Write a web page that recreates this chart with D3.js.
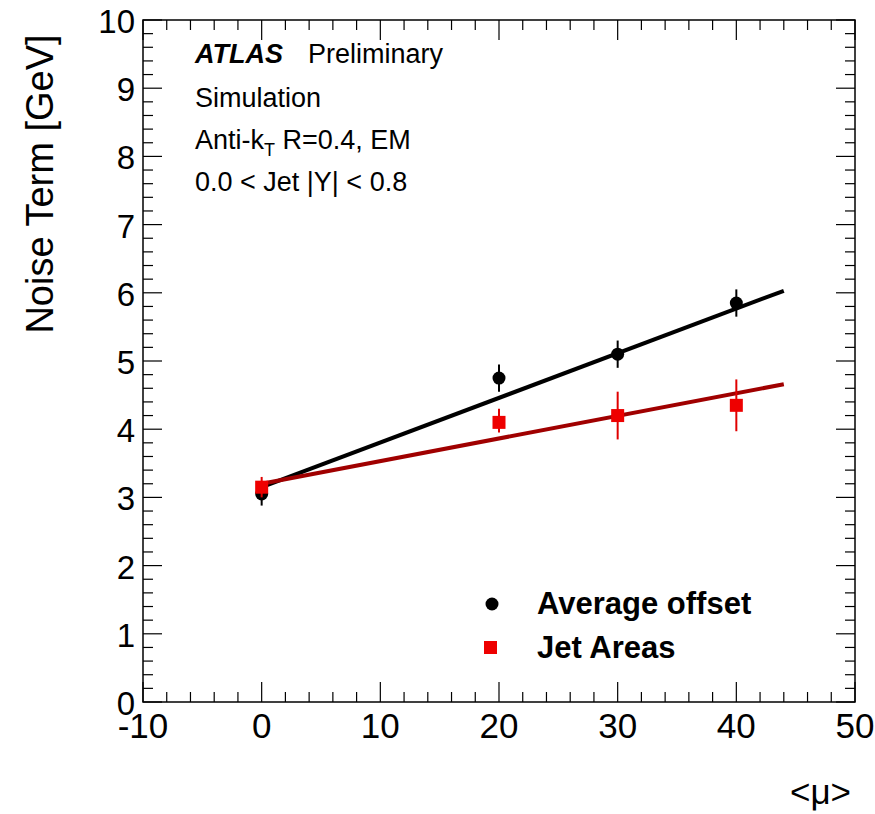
<!DOCTYPE html>
<html>
<head>
<meta charset="utf-8">
<script src="https://cdn.jsdelivr.net/npm/d3@7"></script>
<style>
  body { margin: 0; background: #fff; }
  svg { font-family: "Liberation Sans", Arial, Helvetica, sans-serif; }
</style>
</head>
<body>
<svg id="chart" width="875" height="814"></svg>
<script>
// data
const mu = [0, 20, 30, 40];
const avgOffset = [3.05, 4.75, 5.1, 5.85];
const avgOffsetErr = [0.17, 0.2, 0.2, 0.2];
const jetAreas = [3.15, 4.1, 4.2, 4.35];
const jetAreasErrUp = [0.15, 0.2, 0.35, 0.38];
const jetAreasErrDown = [0.15, 0.15, 0.35, 0.38];
// linear fits drawn over [0, 44]
const fitRange = [0, 44];
const avgOffsetFit = [3.15, 6.03];
const jetAreasFit = [3.2, 4.66];

const xTicks = [-10, 0, 10, 20, 30, 40, 50];
const yTicks = [0, 1, 2, 3, 4, 5, 6, 7, 8, 9, 10];

const svg = d3.select('#chart');
// frame edges (pixels)
const fLeft = 143, fRight = 855, fTop = 20, fBottom = 702;

const x = d3.scaleLinear().domain([-10, 50]).range([fLeft, fRight]);
const y = d3.scaleLinear().domain([0, 10]).range([fBottom, fTop]);

// frame
svg.append('rect')
  .attr('x', fLeft).attr('y', fTop)
  .attr('width', fRight - fLeft).attr('height', fBottom - fTop)
  .attr('fill', 'none').attr('stroke', '#000').attr('stroke-width', 1.5);

// ticks on all four sides, pointing inwards
const xMinor = d3.range(-10, 50.01, 2);
const yMinor = d3.range(0, 10.01, 0.2);
const tickG = svg.append('g').attr('stroke', '#000').attr('stroke-width', 1.2);
xMinor.forEach(v => {
  const len = Math.abs(v % 10) < 1e-6 ? 20 : 10;
  tickG.append('line').attr('x1', x(v)).attr('x2', x(v)).attr('y1', fBottom).attr('y2', fBottom - len);
  tickG.append('line').attr('x1', x(v)).attr('x2', x(v)).attr('y1', fTop).attr('y2', fTop + len);
});
yMinor.forEach(v => {
  const len = Math.abs(v - Math.round(v)) < 1e-6 ? 19 : 10;
  tickG.append('line').attr('y1', y(v)).attr('y2', y(v)).attr('x1', fLeft).attr('x2', fLeft + len);
  tickG.append('line').attr('y1', y(v)).attr('y2', y(v)).attr('x1', fRight).attr('x2', fRight - len);
});

// tick labels
svg.append('g').selectAll('text').data(xTicks).join('text')
  .attr('x', d => x(d)).attr('y', fBottom + 36)
  .attr('text-anchor', 'middle').attr('font-size', 35)
  .text(d => d);
svg.append('g').selectAll('text').data(yTicks).join('text')
  .attr('x', fLeft - 8).attr('y', d => y(d) + 13)
  .attr('text-anchor', 'end').attr('font-size', 33)
  .text(d => d);

// axis titles
svg.append('text')
  .attr('x', 851).attr('y', 804)
  .attr('text-anchor', 'end').attr('font-size', 35)
  .text('<μ>');
svg.append('text')
  .attr('transform', `translate(53,184) rotate(-90)`)
  .attr('text-anchor', 'middle').attr('font-size', 38)
  .text('Noise Term [GeV]');

// fit lines
const line = d3.line().x(d => x(d[0])).y(d => y(d[1]));
svg.append('path')
  .attr('d', line([[fitRange[0], avgOffsetFit[0]], [fitRange[1], avgOffsetFit[1]]]))
  .attr('stroke', '#000').attr('stroke-width', 4).attr('fill', 'none');
svg.append('path')
  .attr('d', line([[fitRange[0], jetAreasFit[0]], [fitRange[1], jetAreasFit[1]]]))
  .attr('stroke', '#a00000').attr('stroke-width', 4).attr('fill', 'none');

// average offset points
const avgG = svg.append('g');
mu.forEach((m, i) => {
  avgG.append('line')
    .attr('x1', x(m)).attr('x2', x(m))
    .attr('y1', y(avgOffset[i] - avgOffsetErr[i])).attr('y2', y(avgOffset[i] + avgOffsetErr[i]))
    .attr('stroke', '#000').attr('stroke-width', 2);
  avgG.append('circle')
    .attr('cx', x(m)).attr('cy', y(avgOffset[i])).attr('r', 6.5).attr('fill', '#000');
});

// jet areas points
const jaG = svg.append('g');
mu.forEach((m, i) => {
  jaG.append('line')
    .attr('x1', x(m)).attr('x2', x(m))
    .attr('y1', y(jetAreas[i] - jetAreasErrDown[i])).attr('y2', y(jetAreas[i] + jetAreasErrUp[i]))
    .attr('stroke', '#e00000').attr('stroke-width', 2);
  jaG.append('rect')
    .attr('x', x(m) - 6.5).attr('y', y(jetAreas[i]) - 6.5)
    .attr('width', 13).attr('height', 13).attr('fill', '#ee0000');
});

// ATLAS label block
const lab = svg.append('g').attr('font-size', 27);
lab.append('text').attr('x', 195).attr('y', 63)
  .attr('font-weight', 'bold').attr('font-style', 'italic').attr('font-size', 27).text('ATLAS');
lab.append('text').attr('x', 308).attr('y', 63).text('Preliminary');
lab.append('text').attr('x', 195).attr('y', 107).text('Simulation');
const anti = lab.append('text').attr('x', 195).attr('y', 149);
anti.append('tspan').text('Anti-k');
anti.append('tspan').attr('font-size', 18).attr('dy', 7).text('T');
anti.append('tspan').attr('dy', -7).text(' R=0.4, EM');
lab.append('text').attr('x', 195).attr('y', 191).text('0.0 < Jet |Y| < 0.8');

// legend
const legend = svg.append('g').attr('font-size', 31).attr('font-weight', 'bold');
legend.append('circle').attr('cx', 492).attr('cy', 604).attr('r', 6.5).attr('fill', '#000');
legend.append('text').attr('x', 537).attr('y', 614).text('Average offset');
legend.append('rect').attr('x', 484).attr('y', 641).attr('width', 13).attr('height', 13).attr('fill', '#ee0000');
legend.append('text').attr('x', 537).attr('y', 658).text('Jet Areas');
</script>
</body>
</html>
